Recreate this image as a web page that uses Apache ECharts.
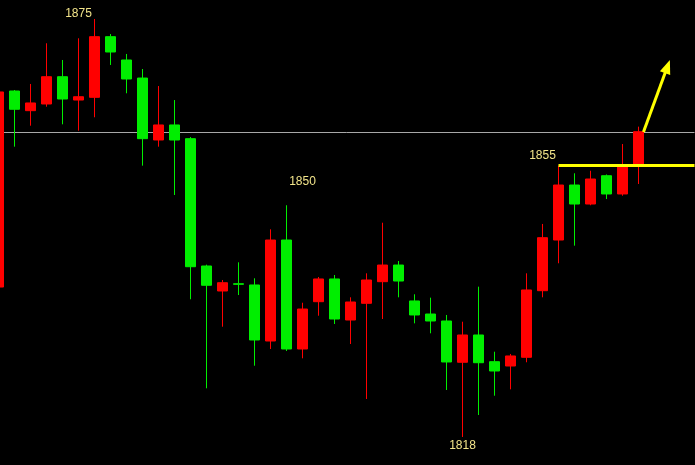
<!DOCTYPE html>
<html>
<head>
<meta charset="utf-8">
<script src="https://cdn.jsdelivr.net/npm/echarts@6/dist/echarts.min.js"></script>
<style>
html,body{margin:0;padding:0;background:#000;}
#c{width:695px;height:465px;}
</style>
</head>
<body>
<div id="c"></div>
<script>
const categories = ['1','2','3','4','5','6','7','8','9','10','11','12','13','14','15','16','17','18','19','20','21','22','23','24','25','26','27','28','29','30','31','32','33','34','35','36','37','38','39','40','41','42','43','44'];
const opens  = [1838.45,1865.18,1862.50,1863.41,1867.13,1863.95,1864.32,1872.59,1869.41,1866.95,1858.50,1860.55,1858.68,1841.32,1837.91,1838.90,1838.73,1831.09,1844.86,1830.00,1836.45,1839.55,1833.95,1836.23,1839.18,1841.45,1836.55,1834.77,1833.82,1828.19,1831.91,1828.27,1827.68,1828.87,1837.95,1844.86,1852.36,1849.77,1853.63,1851.14,1855.09];
const closes = [1865.05,1862.69,1863.55,1867.13,1864.09,1864.40,1872.59,1870.50,1866.82,1858.68,1860.55,1858.50,1841.22,1838.69,1839.04,1838.82,1831.23,1844.86,1830.00,1835.45,1839.55,1834.09,1836.41,1839.41,1841.45,1839.27,1834.64,1833.82,1828.23,1831.91,1828.13,1827.00,1829.05,1838.05,1845.18,1852.36,1849.77,1853.18,1851.14,1854.86,1859.63];
const lows   = [1838.30,1857.59,1860.45,1863.04,1860.64,1859.77,1861.60,1868.73,1864.87,1855.00,1857.59,1851.00,1836.78,1824.64,1833.04,1837.36,1827.72,1830.00,1829.73,1828.73,1834.54,1833.41,1830.68,1823.18,1834.09,1837.05,1833.50,1832.14,1824.41,1818.00,1821.00,1823.63,1824.50,1828.19,1837.05,1841.69,1844.09,1849.60,1850.45,1850.90,1852.50];
const highs  = [1865.30,1865.32,1866.14,1871.69,1869.41,1872.37,1875.00,1872.95,1870.23,1868.18,1865.86,1863.95,1858.90,1841.50,1839.41,1841.82,1839.64,1846.32,1849.60,1836.31,1839.82,1840.09,1837.05,1840.32,1847.22,1842.00,1837.46,1837.00,1834.64,1833.72,1838.50,1829.63,1829.32,1840.32,1847.05,1855.00,1853.96,1854.31,1853.80,1857.95,1860.32];
// annotations: [categoryPosition, value, text]
const priceLabels = [[5, 1875.68, '1875'], [19, 1852.81, '1850'], [34, 1856.32, '1855'], [29, 1816.77, '1818']];
const grayLevel = 1859.55;
const resistance = {from: 35, to: 43.5, value: 1855};
const arrowFrom = [40.31, 1859.6];
const arrowTo = [41.81, 1868.52];

const candleData = opens.map((o, i) => [o, closes[i], lows[i], highs[i]]);
while (candleData.length < categories.length) candleData.push('-');

const chart = echarts.init(document.getElementById('c'), null, {renderer: 'canvas'});
chart.setOption({
  backgroundColor: '#000000',
  animation: false,
  grid: {left: -9.5, right: 0.5, top: -3, bottom: -1.33, outerBoundsMode: 'none', containLabel: false},
  xAxis: [
    {type: 'category', data: categories, boundaryGap: true, show: false},
    {type: 'value', min: -0.5, max: 43.5, show: false}
  ],
  yAxis: {type: 'value', min: 1814, max: 1878, show: false, splitLine: {show: false}, scale: true},
  series: [
    {
      type: 'line', xAxisIndex: 1, data: [], z: 1, silent: true,
      markLine: {
        z: 1, silent: true, symbol: ['none', 'none'],
        label: {show: false},
        lineStyle: {color: '#a8a8a8', width: 1, type: 'solid'},
        data: [{yAxis: grayLevel}]
      }
    },
    {
      type: 'candlestick', xAxisIndex: 0, data: candleData, z: 2,
      barWidth: 11,
      itemStyle: {color: '#ff0000', color0: '#00ee00', borderColor: '#ff0000', borderColor0: '#00ee00', borderColorDoji: '#00ee00', borderWidth: 1}
    },
    {
      type: 'line', xAxisIndex: 1, data: [], z: 5, silent: true,
      markLine: {
        z: 6, silent: true,
        label: {show: false},
        data: [
          [{coord: [resistance.from, resistance.value], symbol: 'none', lineStyle: {color: '#ffff00', width: 3, type: 'solid'}},
           {coord: [resistance.to, resistance.value], symbol: 'none'}],
          [{coord: arrowFrom, symbol: 'none', lineStyle: {color: '#ffff00', width: 3, type: 'solid'}},
           {coord: arrowTo, symbol: 'triangle', symbolSize: [11, 14]}]
        ]
      },
      markPoint: {
        z: 6, silent: true,
        symbol: 'circle', symbolSize: 1,
        itemStyle: {color: 'rgba(0,0,0,0)'},
        label: {show: true, position: 'inside', color: '#f2e48a', fontSize: 12, fontFamily: 'Liberation Sans, Arial, sans-serif', formatter: p => p.name},
        data: priceLabels.map(l => ({coord: [l[0], l[1]], name: l[2]}))
      }
    }
  ]
});
</script>
</body>
</html>
